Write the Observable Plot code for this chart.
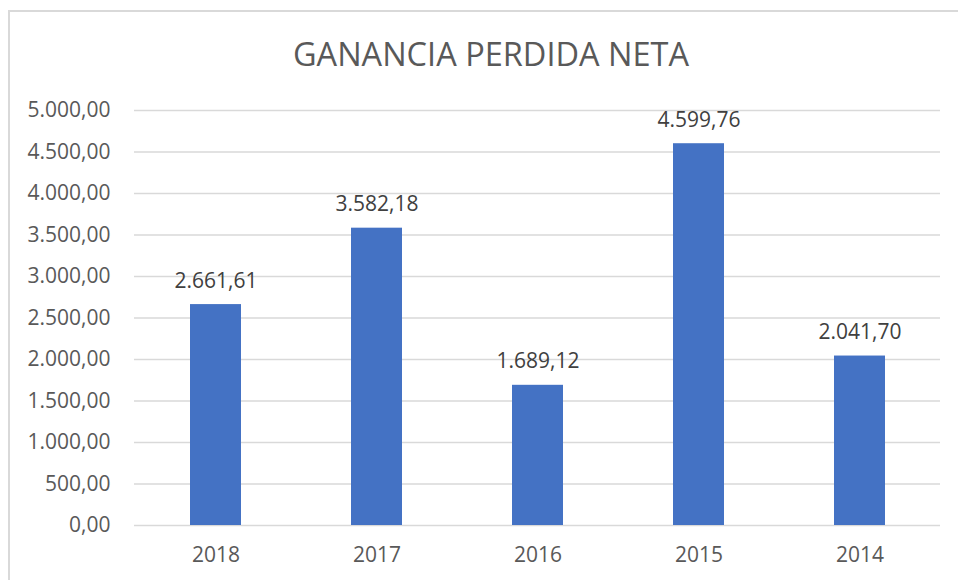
<!DOCTYPE html>
<html>
<head>
<meta charset="utf-8">
<script src="https://cdn.jsdelivr.net/npm/d3@7"></script>
<script src="https://cdn.jsdelivr.net/npm/@observablehq/plot@0.6"></script>
<style>
  html, body { margin: 0; padding: 0; background: #fff; overflow: hidden; }
  #wrap { position: relative; width: 958px; height: 580px; overflow: hidden; }
  #frame { position: absolute; left: 8px; top: 10px; width: 1200px; height: 1200px; border: 2px solid #d9d9d9; box-sizing: border-box; }
  #title { position: absolute; left: 0; width: 982px; top: 31px; text-align: center; font-family: "Open Sans", sans-serif; font-size: 32.5px; line-height: normal; color: #595959; white-space: nowrap; }
  #chart { position: absolute; left: 0; top: 0; }
</style>
</head>
<body>
<div id="wrap">
  <div id="frame"></div>
  <div id="chart"></div>
  <div id="title">GANANCIA PERDIDA NETA</div>
</div>
<script>
const years = ["2018", "2017", "2016", "2015", "2014"];
const values = [2661.61, 3582.18, 1689.12, 4599.76, 2041.70];
const yTicks = [0, 500, 1000, 1500, 2000, 2500, 3000, 3500, 4000, 4500, 5000];

const locale = d3.formatLocale({decimal: ",", thousands: ".", grouping: [3], currency: ["", ""]});
const fmt = locale.format(",.2f");

const data = years.map((y, i) => ({year: y, value: values[i]}));

const chart = Plot.plot({
  width: 958,
  height: 580,
  marginLeft: 134,
  marginRight: 18,
  marginTop: 110,
  marginBottom: 55,
  style: {fontFamily: "Open Sans, sans-serif", fontSize: "21px", color: "#595959", background: "transparent"},
  x: {domain: years, paddingInner: 0.684, paddingOuter: 0.342, label: null},
  y: {domain: [0, 5000], label: null},
  marks: [
    Plot.gridY(yTicks, {stroke: "#d9d9d9", strokeOpacity: 1, strokeWidth: 1.5}),
    Plot.barY(data, {x: "year", y: "value", fill: "#4472C4"}),
    Plot.text(data, {x: "year", y: "value", text: d => fmt(d.value), lineAnchor: "bottom", dy: -17, fill: "#404040", fontSize: 21}),
    Plot.axisY({ticks: yTicks, tickFormat: fmt, tickSize: 0, tickPadding: 24, fontSize: 21, fill: "#595959", label: null}),
    Plot.axisX({tickSize: 0, tickPadding: 22, fontSize: 21, fill: "#595959", label: null})
  ]
});
document.getElementById("chart").appendChild(chart);
</script>
</body>
</html>
